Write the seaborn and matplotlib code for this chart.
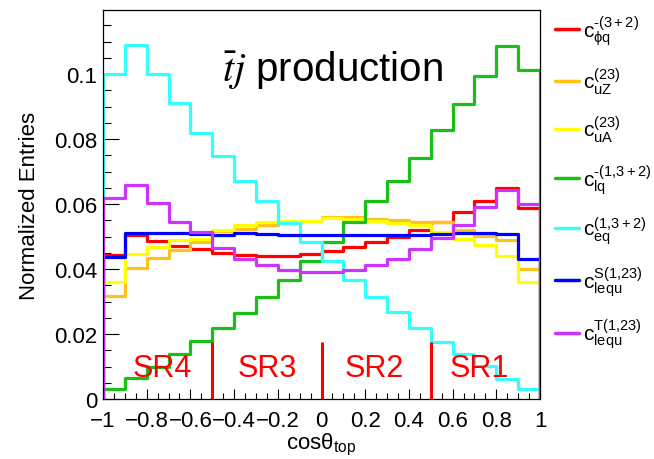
import numpy as np
import pandas as pd
import matplotlib
matplotlib.use("Agg")
import matplotlib.pyplot as plt
import seaborn as sns
from matplotlib.ticker import MultipleLocator, FixedLocator, FixedFormatter
from matplotlib.lines import Line2D

# ---------------- data ----------------
bin_edges = [-1.0, -0.9, -0.8, -0.7, -0.6, -0.5, -0.4, -0.3, -0.2, -0.1, 0.0,
             0.1, 0.2, 0.3, 0.4, 0.5, 0.6, 0.7, 0.8, 0.9, 1.0]

red = [0.0443, 0.0504, 0.0487, 0.0472, 0.0463, 0.0449, 0.0442, 0.0441, 0.0441, 0.0446,
       0.0456, 0.0467, 0.0482, 0.0497, 0.0521, 0.0546, 0.0576, 0.0608, 0.0650, 0.0587]
orange = [0.0316, 0.0402, 0.0433, 0.0459, 0.0482, 0.0516, 0.0522, 0.0534, 0.0546, 0.0549,
          0.0559, 0.0561, 0.0555, 0.0550, 0.0544, 0.0544, 0.0521, 0.0503, 0.0489, 0.0400]
yellow = [0.0359, 0.0445, 0.0469, 0.0490, 0.0493, 0.0521, 0.0535, 0.0544, 0.0549, 0.0549,
          0.0556, 0.0554, 0.0547, 0.0542, 0.0535, 0.0513, 0.0492, 0.0474, 0.0441, 0.0359]
green = [0.0030, 0.0065, 0.0100, 0.0138, 0.0178, 0.0220, 0.0265, 0.0313, 0.0367, 0.0426,
         0.0482, 0.0544, 0.0610, 0.0672, 0.0742, 0.0828, 0.0908, 0.0993, 0.1087, 0.1012]
cyan = [0.1000, 0.1089, 0.1000, 0.0910, 0.0820, 0.0749, 0.0670, 0.0610, 0.0542, 0.0482,
        0.0426, 0.0367, 0.0313, 0.0267, 0.0220, 0.0175, 0.0140, 0.0103, 0.0062, 0.0030]
blue = [0.0438, 0.0511, 0.0511, 0.0510, 0.0507, 0.0505, 0.0510, 0.0508, 0.0506, 0.0506,
        0.0506, 0.0506, 0.0505, 0.0506, 0.0506, 0.0507, 0.0510, 0.0510, 0.0508, 0.0431]
magenta = [0.0617, 0.0660, 0.0603, 0.0544, 0.0513, 0.0464, 0.0431, 0.0412, 0.0396, 0.0392,
           0.0390, 0.0397, 0.0411, 0.0431, 0.0462, 0.0495, 0.0535, 0.0592, 0.0644, 0.0601]

HY = "\N{HYPHEN}"
series_labels = ["$c_{\\phi q}^{" + HY + "(3+2)}$", r"$c_{uZ}^{(23)}$", r"$c_{uA}^{(23)}$",
                 "$c_{lq}^{" + HY + "(1{,}3+2)}$", r"$c_{eq}^{(1{,}3+2)}$",
                 r"$c_{lequ}^{S(1{,}23)}$", r"$c_{lequ}^{T(1{,}23)}$"]
series_values = [red, orange, yellow, green, cyan, blue, magenta]
series_colors = ["#ff0000", "#ffc21a", "#ffff00", "#18c018", "#33ffff", "#0000ff", "#cc33ff"]

region_labels = ["SR4", "SR3", "SR2", "SR1"]
region_centers = [-0.73, -0.25, 0.24, 0.72]
region_dividers = [-0.5, 0.0, 0.5]

x_ticks = [-1.0, -0.8, -0.6, -0.4, -0.2, 0.0, 0.2, 0.4, 0.6, 0.8, 1.0]
x_ticklabels = ["\u22121", "\u22120.8", "\u22120.6", "\u22120.4", "\u22120.2", "0",
                "0.2", "0.4", "0.6", "0.8", "1"]
y_ticks = [0.0, 0.02, 0.04, 0.06, 0.08, 0.1]
y_ticklabels = ["0", "0.02", "0.04", "0.06", "0.08", "0.1"]

# ---------------- style ----------------
sns.set_theme(style="ticks")
plt.rcParams["font.family"] = ["Liberation Sans", "DejaVu Sans"]
plt.rcParams["mathtext.fontset"] = "custom"
plt.rcParams["mathtext.rm"] = "Liberation Sans"
plt.rcParams["mathtext.it"] = "Liberation Sans:italic"
plt.rcParams["mathtext.bf"] = "Liberation Sans:bold"
plt.rcParams["mathtext.default"] = "regular"
plt.rcParams["text.color"] = "black"
plt.rcParams["axes.labelcolor"] = "black"

fig = plt.figure(figsize=(6.54, 4.60), dpi=100)
ax = fig.add_axes([103 / 654, 1 - 400 / 460, (540 - 103) / 654, (400 - 11) / 460])

centers = [(a + b) / 2 for a, b in zip(bin_edges[:-1], bin_edges[1:])]
lw = 2.3
for vals, col, lab in zip(series_values, series_colors, series_labels):
    df = pd.DataFrame({"x": centers, "w": vals})
    sns.histplot(data=df, x="x", weights="w", bins=bin_edges, element="step",
                 fill=False, color=col, linewidth=lw, ax=ax)
    # ROOT-style outline drops to zero at the histogram ends
    ax.vlines([bin_edges[0], bin_edges[-1]], 0, [vals[0], vals[-1]], color=col, linewidth=lw)

# signal-region dividers and labels
ax.vlines(region_dividers, 0, 0.0175, color="#ff0000", linewidth=2.2)
for lab, xc in zip(region_labels, region_centers):
    ax.text(xc, 0.0072, lab, color="#ff0000", fontsize=22, ha="center", va="baseline")

ax.text(0.05, 0.098, r"$\bar{\mathit{t}}\mathit{j}$ production", fontsize=29,
        ha="center", va="baseline", math_fontfamily="stix", color="black")

ax.set_xlim(-1, 1)
ax.set_ylim(0, 0.1197)
ax.xaxis.set_major_locator(FixedLocator(x_ticks))
ax.xaxis.set_major_formatter(FixedFormatter(x_ticklabels))
ax.xaxis.set_minor_locator(MultipleLocator(0.05))
ax.yaxis.set_major_locator(FixedLocator(y_ticks))
ax.yaxis.set_major_formatter(FixedFormatter(y_ticklabels))
ax.yaxis.set_minor_locator(MultipleLocator(0.005))

ax.tick_params(axis="both", which="both", direction="in", colors="black", width=0.8,
               labelsize=16)
ax.tick_params(axis="x", which="major", length=7.5, pad=8)
ax.tick_params(axis="x", which="minor", length=4)
ax.tick_params(axis="y", which="major", length=11.5, pad=4)
ax.tick_params(axis="y", which="minor", length=6)
for sp in ax.spines.values():
    sp.set_color("black")
    sp.set_linewidth(0.9)

ax.set_xlabel(r"cos$\theta_{top}$", fontsize=16, labelpad=0)
ax.set_ylabel("Normalized Entries", fontsize=16, labelpad=10)

handles = [Line2D([], [], color=c, linewidth=2.5) for c in series_colors]
leg = ax.legend(handles, series_labels, loc="upper left", bbox_to_anchor=(555 / 654, 1 - 14 / 460),
                bbox_transform=fig.transFigure, frameon=False, fontsize=15, handlelength=1.15,
                handletextpad=0.2, labelspacing=0.85, borderpad=0, borderaxespad=0)
for t in leg.get_texts():
    t.set_color("black")

fig.savefig("out.png", dpi=100)
